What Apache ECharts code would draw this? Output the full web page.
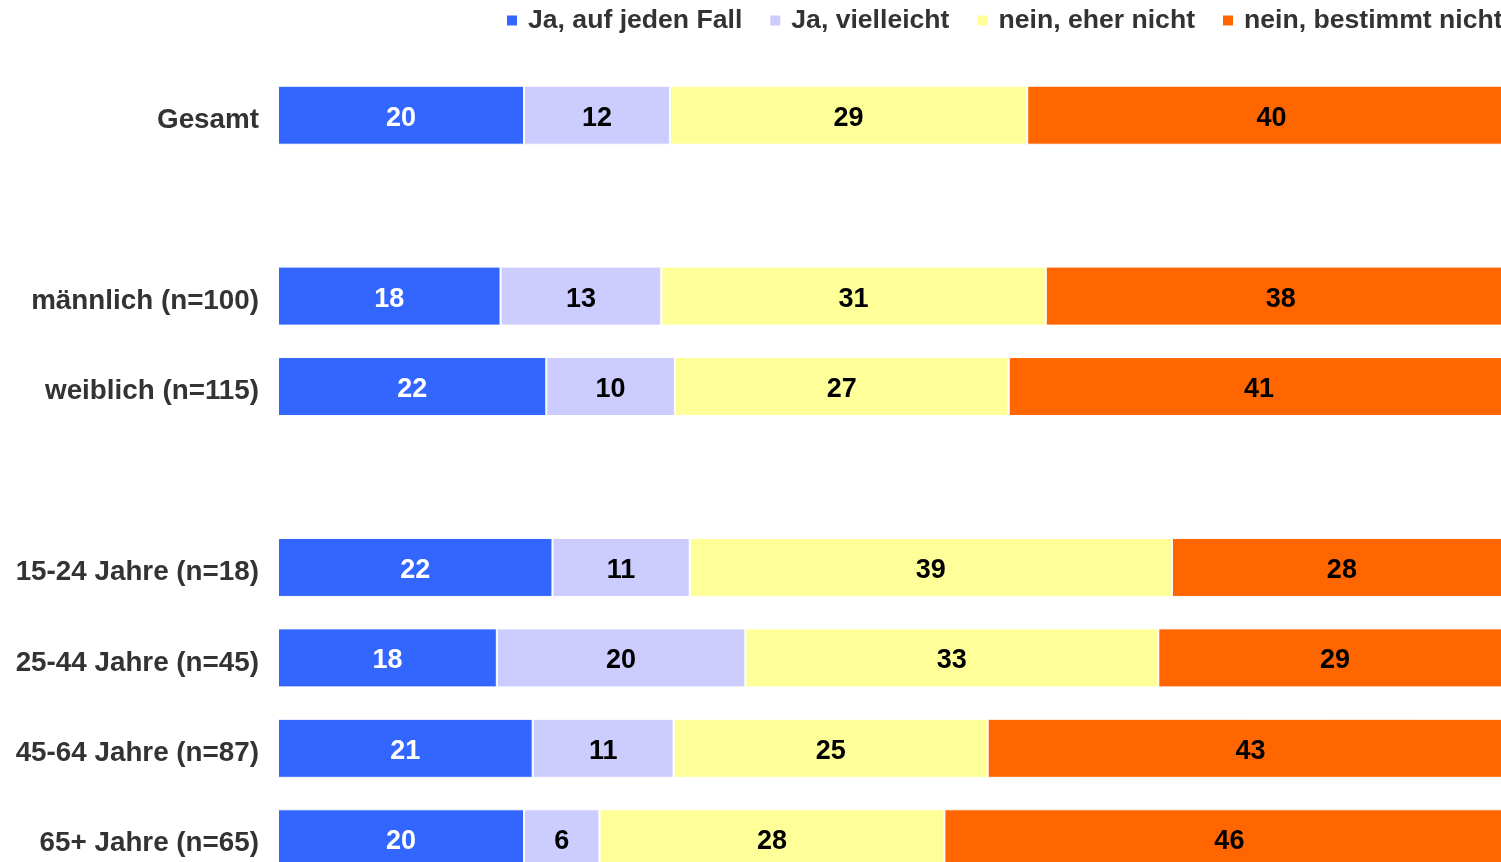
<!DOCTYPE html>
<html>
<head>
<meta charset="utf-8">
<title>Umfrage</title>
<script src="https://cdn.jsdelivr.net/npm/echarts@6/dist/echarts.min.js"></script>
<style>
  html, body { margin: 0; padding: 0; background: #fff; }
  #main { width: 1501px; height: 862px; }
</style>
</head>
<body>
<div id="main"></div>
<script>
// Kategorien (Leerzeilen als Abstand zwischen den Gruppen)
const categories = [
  'Gesamt', ' ', 'männlich (n=100)', 'weiblich (n=115)', '  ',
  '15-24 Jahre (n=18)', '25-44 Jahre (n=45)', '45-64 Jahre (n=87)', '65+ Jahre (n=65)'
];
const seriesNames = ['Ja, auf jeden Fall', 'Ja, vielleicht', 'nein, eher nicht', 'nein, bestimmt nicht'];

// Werte in %, aus der Balkenlänge geschätzt ('-' = Leerzeile)
const jaAufJedenFall = [19.9, '-', 18.0, 21.7, '-', 22.2, 17.7, 20.6, 19.9];
const jaVielleicht = [11.8, '-', 13.0, 10.4, '-', 11.1, 20.1, 11.4, 6.1];
const neinEherNicht = [28.9, '-', 31.1, 27.0, '-', 39.0, 33.4, 25.4, 27.9];
const neinBestimmtNicht = [39.5, '-', 38.0, 40.5, '-', 27.5, 28.6, 42.5, 46.1];

const colors = ['#3366FF', '#CCCCFF', '#FFFF99', '#FF6600'];
const labelColors = ['#ffffff', '#000000', '#000000', '#000000'];
const values = [jaAufJedenFall, jaVielleicht, neinEherNicht, neinBestimmtNicht];

var chartDom = document.getElementById('main');
var myChart = echarts.init(chartDom);

var option = {
  animation: false,
  textStyle: { fontFamily: 'Liberation Sans, Arial, sans-serif' },
  legend: {
    left: 505,
    top: 7,
    width: 1400,
    padding: 0,
    itemWidth: 12,
    itemHeight: 12,
    itemGap: 26,
    icon: 'rect',
    textStyle: { fontSize: 26.6, fontWeight: 'bold', color: '#333333', padding: [0, 0, 0, 5] },
    data: seriesNames
  },
  // Raster reicht über den rechten und unteren Rand hinaus (wie im Original abgeschnitten)
  grid: {
    left: 278,
    top: 70,
    width: 1360,
    height: 814,
    outerBoundsMode: 'none',
    containLabel: false
  },
  xAxis: {
    type: 'value',
    min: 0,
    max: 110,
    show: false
  },
  yAxis: {
    type: 'category',
    inverse: true,
    data: categories,
    axisLine: { show: false },
    axisTick: { show: false },
    axisLabel: {
      margin: 19,
      formatter: function (v) {
        return '{t|' + v + '}';
      },
      rich: {
        t: {
          fontSize: 27.8,
          fontWeight: 'bold',
          color: '#333333',
          padding: [10, 0, 0, 0]
        }
      }
    }
  },
  series: values.map(function (arr, i) {
    return {
      name: seriesNames[i],
      type: 'bar',
      stack: 'total',
      barWidth: 59,
      data: arr,
      itemStyle: {
        color: colors[i],
        borderColor: '#ffffff',
        borderWidth: 1
      },
      label: {
        show: true,
        position: 'inside',
        offset: [0, 3],
        fontSize: 27,
        fontWeight: 'bold',
        color: labelColors[i],
        formatter: function (p) {
          return Math.round(p.value);
        }
      }
    };
  })
};

option && myChart.setOption(option);
</script>
</body>
</html>
